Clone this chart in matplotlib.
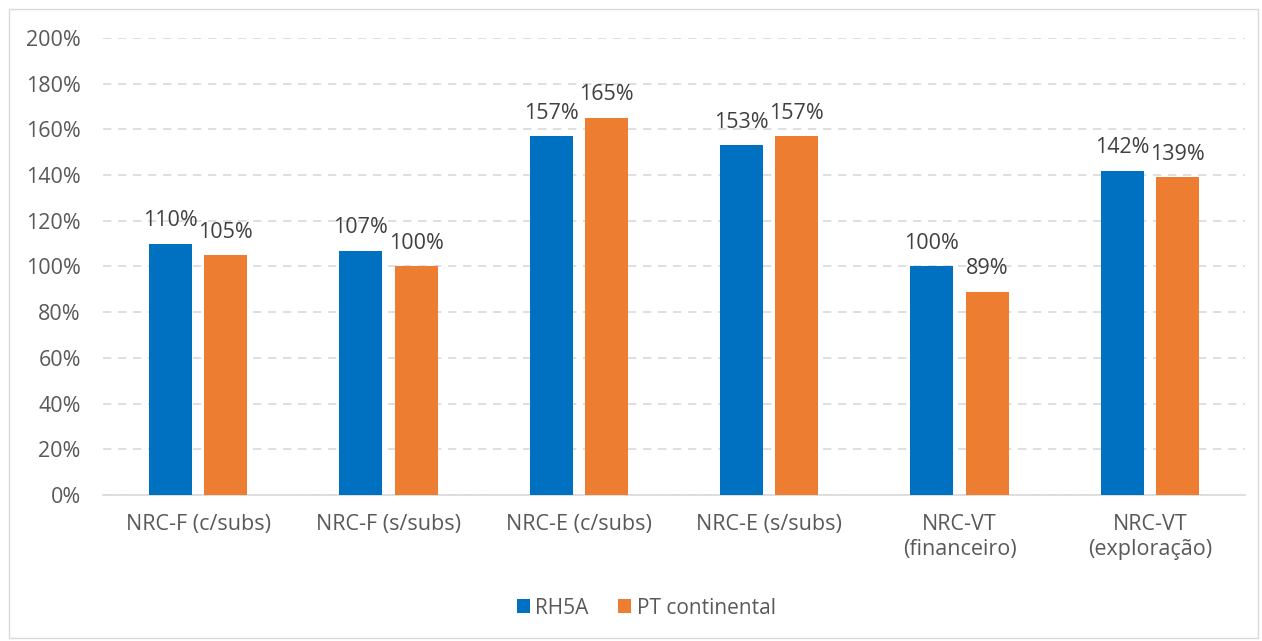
import numpy as np
import matplotlib.pyplot as plt
from matplotlib.patches import Rectangle

categorias = ["NRC-F (c/subs)", "NRC-F (s/subs)", "NRC-E (c/subs)",
              "NRC-E (s/subs)", "NRC-VT\n(financeiro)", "NRC-VT\n(exploração)"]
rh5a = [110, 107, 157, 153, 100, 142]
pt_continental = [105, 100, 165, 157, 89, 139]
series = ["RH5A", "PT continental"]

plt.rcParams['font.family'] = ['Open Sans', 'DejaVu Sans']

fig = plt.figure(figsize=(12.62, 6.41), dpi=100)
ax = fig.add_axes([103 / 1262, 1 - 495 / 641, (1245 - 103) / 1262, (495 - 38) / 641])

# moldura do gráfico
fig.patches.append(Rectangle((9 / 1262, 3 / 641), 1249 / 1262, 629 / 641,
                             transform=fig.transFigure, fill=False,
                             edgecolor="#d9d9d9", linewidth=1))

x = np.arange(len(categorias))
largura = 0.226
desloc = 0.145
azul = "#0070C0"
laranja = "#ED7D31"

b1 = ax.bar(x - desloc, rh5a, largura, color=azul, label=series[0], zorder=3)
b2 = ax.bar(x + desloc, pt_continental, largura, color=laranja, label=series[1], zorder=3)

for barras in (b1, b2):
    for b in barras:
        v = b.get_height()
        ax.annotate(f"{v:.0f}%", (b.get_x() + b.get_width() / 2, v),
                    xytext=(0, 9), textcoords="offset points",
                    ha="center", va="bottom", fontsize=15.5, color="#404040")

ax.set_xlim(-0.5, len(categorias) - 0.5)
ax.set_ylim(0, 200)
ax.set_yticks(range(0, 201, 20))
ax.set_yticklabels([f"{t}%" for t in range(0, 201, 20)])
ax.set_xticks(x)
ax.set_xticklabels(categorias, linespacing=1.25)
ax.tick_params(axis="both", length=0, labelsize=15.5, colors="#595959")
ax.tick_params(axis="y", pad=16)
ax.tick_params(axis="x", pad=14)

ax.yaxis.grid(True, color="#d9d9d9", linestyle=(0, (5, 4)), linewidth=1.2, zorder=0)
for s in ["top", "right", "left"]:
    ax.spines[s].set_visible(False)
ax.spines["bottom"].set_color("#d9d9d9")
ax.spines["bottom"].set_linewidth(1.2)

fig.legend(handles=[b1, b2], loc="center", bbox_to_anchor=(0.512, 1 - 608 / 641),
           ncol=2, frameon=False, fontsize=15, labelcolor="#595959",
           handlelength=0.65, handleheight=0.65, handletextpad=0.25, columnspacing=1.4)

fig.savefig("out.png", dpi=100)
